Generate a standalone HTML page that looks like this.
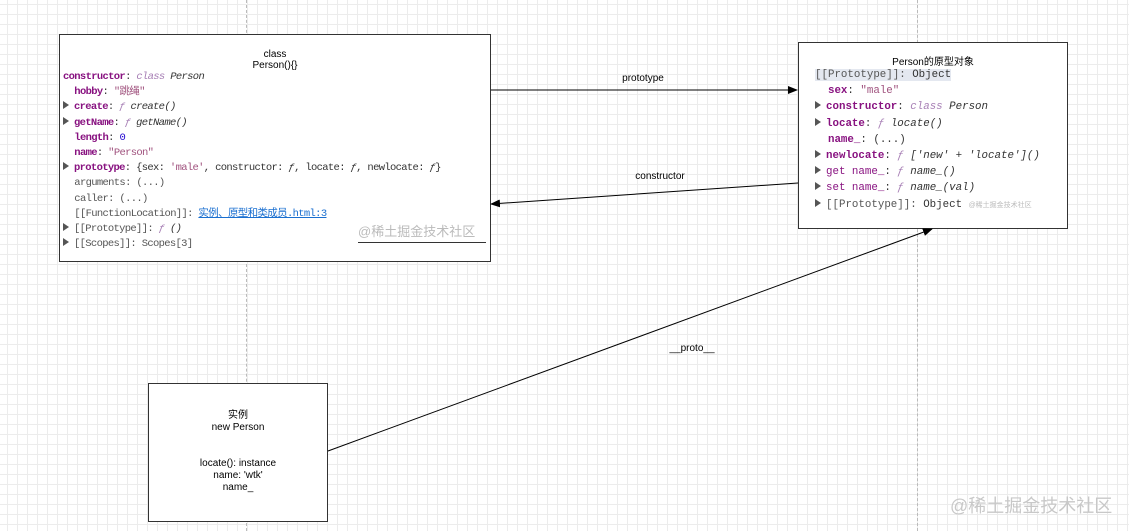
<!DOCTYPE html>
<html><head><meta charset="utf-8"><style>
body{margin:0;width:1129px;height:531px;overflow:hidden;position:relative;font-family:"Liberation Sans","Noto Sans CJK SC",sans-serif;
background-color:#fff;background-image:linear-gradient(#ececec 1px,transparent 1px),linear-gradient(90deg,#ececec 1px,transparent 1px);background-size:10px 10px;background-position:-3px -6px}
.box{position:absolute;background:#fff;border:1px solid #333;box-sizing:border-box}
.code{position:absolute;font-family:"Liberation Mono","Noto Sans CJK SC",monospace;font-size:10.5px;letter-spacing:-0.66px;line-height:15.2px;color:#333;white-space:pre}
.k{color:#881280;font-weight:bold}.s{color:#a0527e}.i{font-style:italic}.c{color:#a77fb5;font-style:italic}.g{color:#555}
.t{position:absolute;font-size:10px;color:#000;text-align:center}
.lnk{color:#1a6fd0;text-decoration:underline}
.tr{display:inline-block;width:0;height:0;border-left:6px solid #555;border-top:4px solid transparent;border-bottom:4px solid transparent;margin-right:5px;vertical-align:0}
</style></head><body>
<div style="position:absolute;left:246px;top:0;width:0;height:531px;border-left:1px dashed #bbb"></div>
<div style="position:absolute;left:917px;top:0;width:0;height:531px;border-left:1px dashed #bbb"></div>

<div class="box" style="left:59px;top:34px;width:432px;height:228px;overflow:hidden">
<div class="t" style="left:0;width:430px;top:14px;line-height:11px">class<br>Person(){}</div>
<div class="code" style="left:3px;top:35px"><span class="k">constructor</span>: <span class="c">class</span> <span class="i">Person</span>
  <span class="k">hobby</span>: <span class="s">"跳绳"</span>
<span class="tr"></span><span class="k">create</span>: <span class="c">ƒ</span> <span class="i">create()</span>
<span class="tr"></span><span class="k">getName</span>: <span class="c">ƒ</span> <span class="i">getName()</span>
  <span class="k">length</span>: <span style="color:#1c00cf">0</span>
  <span class="k">name</span>: <span class="s">"Person"</span>
<span class="tr"></span><span class="k">prototype</span>: {sex: <span class="s">'male'</span>, constructor: <span class="i">ƒ</span>, locate: <span class="i">ƒ</span>, newlocate: <span class="i">ƒ</span>}
  <span class="g">arguments: (...)</span>
  <span class="g">caller: (...)</span>
  <span class="g">[[FunctionLocation]]:</span> <span class="lnk">实例、原型和类成员.html:3</span>
<span class="tr"></span><span class="g">[[Prototype]]:</span> <span class="c">ƒ</span> <span class="i">()</span>
<span class="tr"></span><span class="g">[[Scopes]]: Scopes[3]</span></div>
<div style="position:absolute;left:298px;top:186px;font-size:13px;color:#bbb;background:#fff">@稀土掘金技术社区</div>
<div style="position:absolute;left:298px;top:207px;width:128px;height:1px;background:#333"></div>
</div>

<div class="box" style="left:798px;top:42px;width:270px;height:187px">
<div class="t" style="left:0;width:268px;top:10px;font-size:10px">Person的原型对象</div>
<div class="code" style="left:16px;top:24px;font-size:10.8px;letter-spacing:0;line-height:16.2px"><span style="background:#e4e8f0;color:#555">[[Prototype]]:</span><span style="background:#e4e8f0"> Object</span>
  <span class="k">sex</span>: <span class="s">"male"</span>
<span class="tr"></span><span class="k">constructor</span>: <span class="c">class</span> <span class="i">Person</span>
<span class="tr"></span><span class="k">locate</span>: <span class="c">ƒ</span> <span class="i">locate()</span>
  <span class="k">name_</span>: (...)
<span class="tr"></span><span class="k">newlocate</span>: <span class="c">ƒ</span> <span class="i">['new' + 'locate']()</span>
<span class="tr"></span><span style="color:#881280">get name_</span>: <span class="c">ƒ</span> <span class="i">name_()</span>
<span class="tr"></span><span style="color:#881280">set name_</span>: <span class="c">ƒ</span> <span class="i">name_(val)</span>
<span class="tr"></span><span class="g">[[Prototype]]:</span> Object <span style="font-size:7px;color:#bbb;font-family:'Liberation Sans','Noto Sans CJK SC',sans-serif">@稀土掘金技术社区</span></div>
</div>

<div class="box" style="left:148px;top:383px;width:180px;height:139px">
<div class="t" style="left:0;width:178px;top:26px;line-height:12px">实例<br>new Person<br><br><br>locate():  instance<br>name:  'wtk'<br>name_</div>
</div>

<svg style="position:absolute;left:0;top:0" width="1129" height="531">
<defs><marker id="a" markerWidth="10" markerHeight="8" refX="9" refY="4" orient="auto" markerUnits="userSpaceOnUse"><path d="M0,0 L10,4 L0,8 z" fill="#000"/></marker></defs>
<g stroke="#000" stroke-width="1" fill="none">
<line x1="491" y1="90" x2="797" y2="90" marker-end="url(#a)"/>
<line x1="798" y1="183" x2="491" y2="204" marker-end="url(#a)"/>
<line x1="328" y1="451" x2="932" y2="229" marker-end="url(#a)"/>
</g>
<g font-family="Liberation Sans, sans-serif" font-size="10" fill="#000" text-anchor="middle">
<text x="643" y="81">prototype</text>
<text x="660" y="179">constructor</text>
<text x="692" y="351">__proto__</text>
</g>
</svg>
<div style="position:absolute;left:950px;top:492px;font-size:18px;color:#c8c8c8">@稀土掘金技术社区</div>
</body></html>
